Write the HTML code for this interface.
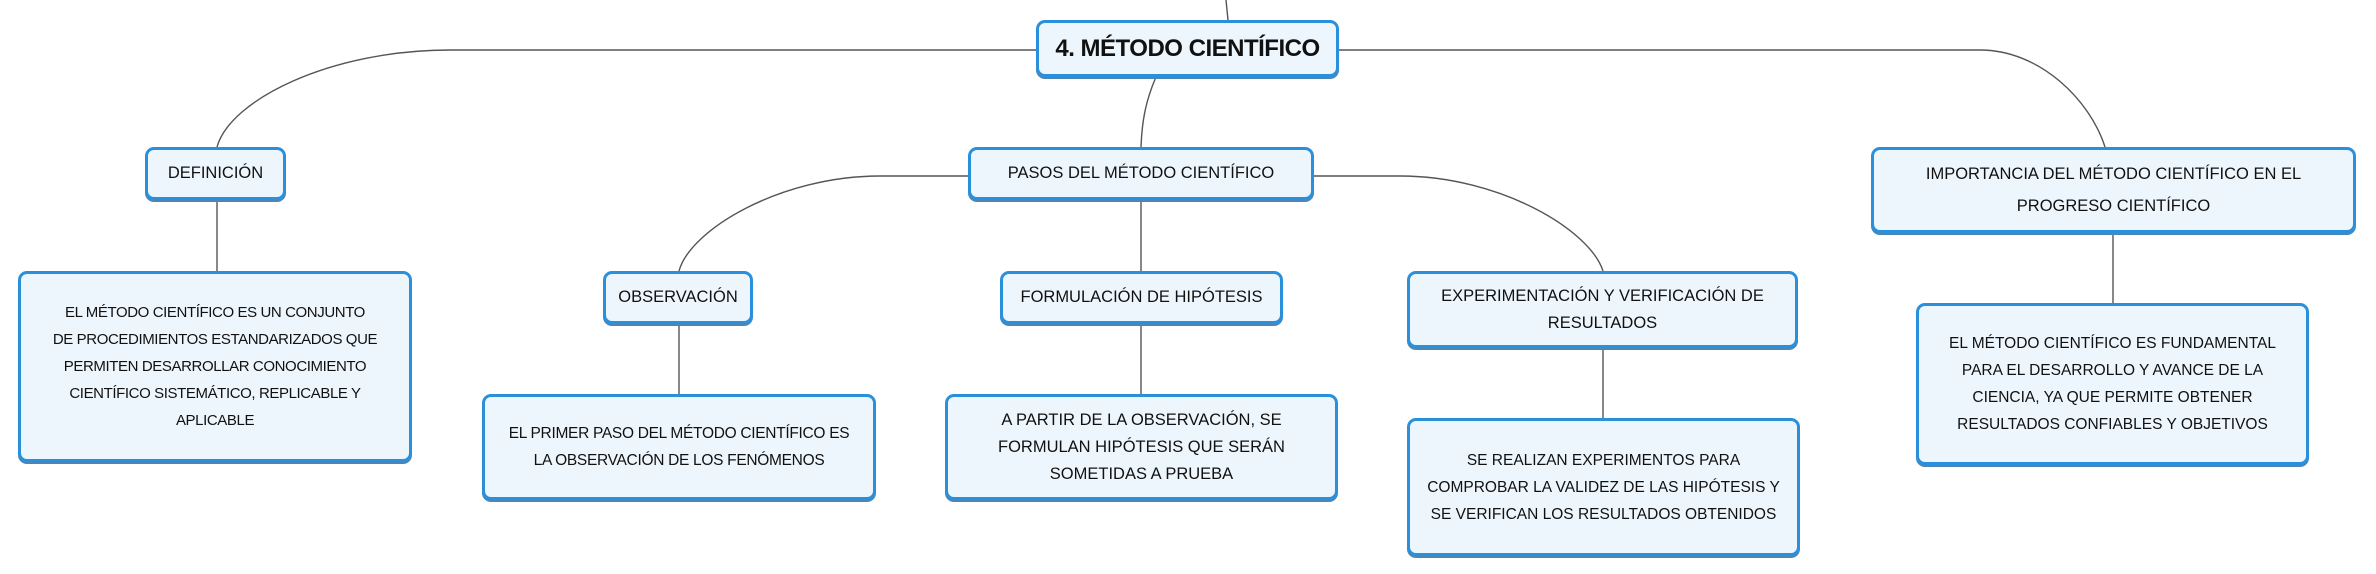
<!DOCTYPE html>
<html><head><meta charset="utf-8"><style>
body{margin:0;width:2376px;height:574px;background:#fff;position:relative;overflow:hidden;font-family:"Liberation Sans",sans-serif;}
.b{position:absolute;box-sizing:border-box;background:#eef6fd;border:3px solid #2b90dc;border-radius:9px;box-shadow:0 2px 0 #4a86b8;display:flex;align-items:center;justify-content:center;text-align:center;color:#111;font-size:16.5px;line-height:27px;padding:0 6px;}
svg{position:absolute;left:0;top:0;}
</style></head><body>
<svg width="2376" height="574" fill="none" stroke="#555" stroke-width="1.4">
<path d="M1226 0 L1228 20"/>
<path d="M1036 50 H450 C330 50 230 100 217 147"/>
<path d="M1339 50 H1980 C2040 50 2090 100 2105 147"/>
<path d="M1156 77 C1146 100 1142 120 1141 147"/>
<path d="M968 176 H880 C780 176 690 230 679 271"/>
<path d="M1314 176 H1400 C1500 176 1590 230 1603 271"/>
<path d="M217 200 V271"/><path d="M1141 200 V271"/>
<path d="M679 324 V394"/><path d="M1141 324 V394"/>
<path d="M1603 348 V418"/><path d="M2113 233 V303"/>
</svg>
<div class="b" style="left:1036px;top:20px;width:303px;height:57px;font-weight:bold;font-size:24px;white-space:nowrap;letter-spacing:-0.5px;padding:0;">4. MÉTODO CIENTÍFICO</div>
<div class="b" style="left:145px;top:147px;width:141px;height:53px;">DEFINICIÓN</div>
<div class="b" style="left:968px;top:147px;width:346px;height:53px;">PASOS DEL MÉTODO CIENTÍFICO</div>
<div class="b" style="left:1871px;top:147px;width:485px;height:86px;padding:0 20px;line-height:32px;">IMPORTANCIA DEL MÉTODO CIENTÍFICO EN EL PROGRESO CIENTÍFICO</div>
<div class="b" style="left:18px;top:271px;width:394px;height:191px;font-size:15px;padding:0;letter-spacing:-0.4px;white-space:nowrap;">EL MÉTODO CIENTÍFICO ES UN CONJUNTO<br>DE PROCEDIMIENTOS ESTANDARIZADOS QUE<br>PERMITEN DESARROLLAR CONOCIMIENTO<br>CIENTÍFICO SISTEMÁTICO, REPLICABLE Y<br>APLICABLE</div>
<div class="b" style="left:603px;top:271px;width:150px;height:53px;">OBSERVACIÓN</div>
<div class="b" style="left:1000px;top:271px;width:283px;height:53px;">FORMULACIÓN DE HIPÓTESIS</div>
<div class="b" style="left:1407px;top:271px;width:391px;height:77px;padding:0 30px;">EXPERIMENTACIÓN Y VERIFICACIÓN DE RESULTADOS</div>
<div class="b" style="left:482px;top:394px;width:394px;height:106px;font-size:15.5px;white-space:nowrap;padding:0;letter-spacing:-0.3px;">EL PRIMER PASO DEL MÉTODO CIENTÍFICO ES<br>LA OBSERVACIÓN DE LOS FENÓMENOS</div>
<div class="b" style="left:945px;top:394px;width:393px;height:106px;padding:0 40px;">A PARTIR DE LA OBSERVACIÓN, SE FORMULAN HIPÓTESIS QUE SERÁN SOMETIDAS A PRUEBA</div>
<div class="b" style="left:1407px;top:418px;width:393px;height:138px;font-size:15.5px;">SE REALIZAN EXPERIMENTOS PARA COMPROBAR LA VALIDEZ DE LAS HIPÓTESIS Y SE VERIFICAN LOS RESULTADOS OBTENIDOS</div>
<div class="b" style="left:1916px;top:303px;width:393px;height:162px;font-size:15.5px;padding:0 12px;">EL MÉTODO CIENTÍFICO ES FUNDAMENTAL PARA EL DESARROLLO Y AVANCE DE LA CIENCIA, YA QUE PERMITE OBTENER RESULTADOS CONFIABLES Y OBJETIVOS</div>
</body></html>
